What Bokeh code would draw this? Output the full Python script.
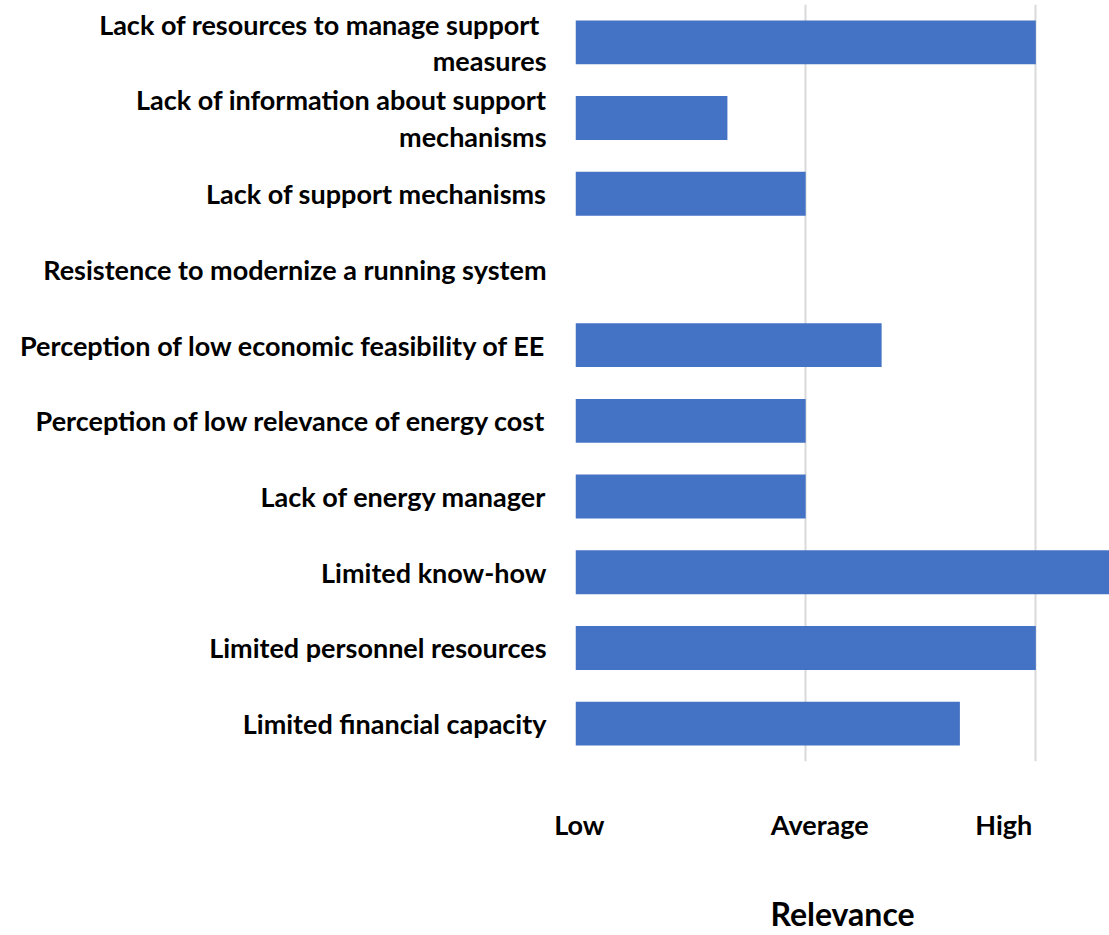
from bokeh.plotting import figure
from bokeh.models import FixedTicker
from bokeh.embed import file_html
from bokeh.resources import INLINE

categories = [
    "Lack of  resources to manage support\nmeasures",
    "Lack of information about support\nmechanisms",
    "Lack of support mechanisms",
    "Resistence to modernize a running system",
    "Perception of low economic feasibility of EE",
    "Perception of low relevance of energy cost",
    "Lack of energy manager",
    "Limited know-how",
    "Limited personnel resources",
    "Limited financial capacity",
]
values = [2.0, 0.66, 1.0, 0.0, 1.33, 1.0, 1.0, 2.33, 2.0, 1.67]
tick_values = [0, 1, 2]
tick_labels = ["Low", "Average", "High"]
label_shift_px = [4, 14, -32]   # visual offset of the tick labels from their gridlines

FONT = "Lato"
W, H = 1109, 935
LEFT, TOP, BOTTOM = 575, 4, 166
X_END = 2.32

p = figure(
    y_range=list(reversed(categories)),
    x_range=(0, X_END),
    width=W, height=H,
    output_backend="svg", toolbar_location=None,
    min_border_left=LEFT, min_border_right=0, min_border_top=TOP, min_border_bottom=BOTTOM,
)
p.hbar(y=categories, right=values, left=0, height=0.58, color="#4472C4", line_color=None)

p.outline_line_color = None
p.ygrid.grid_line_color = None
p.xgrid.ticker = FixedTicker(ticks=tick_values)
p.xgrid.grid_line_color = "#d9d9d9"
p.xgrid.grid_line_width = 2

px_per_unit = (W - LEFT) / X_END
label_pos = [round(v + s / px_per_unit, 3) for v, s in zip(tick_values, label_shift_px)]

xa = p.xaxis[0]
xa.ticker = FixedTicker(ticks=label_pos)
xa.major_label_overrides = {pos: t for pos, t in zip(label_pos, tick_labels)}
xa.axis_line_color = None
xa.major_tick_line_color = None
xa.minor_tick_line_color = None
xa.major_tick_out = 0
xa.major_label_standoff = 46
xa.major_label_text_font = FONT
xa.major_label_text_font_style = "bold"
xa.major_label_text_font_size = "27px"
xa.major_label_text_color = "black"
xa.axis_label = "Relevance"
xa.axis_label_standoff = 50
xa.axis_label_text_font = FONT
xa.axis_label_text_font_style = "bold"
xa.axis_label_text_font_size = "32px"
xa.axis_label_text_color = "black"

ya = p.yaxis[0]
ya.axis_line_color = None
ya.major_tick_line_color = None
ya.minor_tick_line_color = None
ya.major_tick_out = 0
ya.major_label_standoff = 29
ya.major_label_text_font = FONT
ya.major_label_text_font_style = "bold"
ya.major_label_text_font_size = "27px"
ya.major_label_text_color = "black"
ya.major_label_text_line_height = 1.1

open("out.html", "w").write(file_html(p, INLINE))
